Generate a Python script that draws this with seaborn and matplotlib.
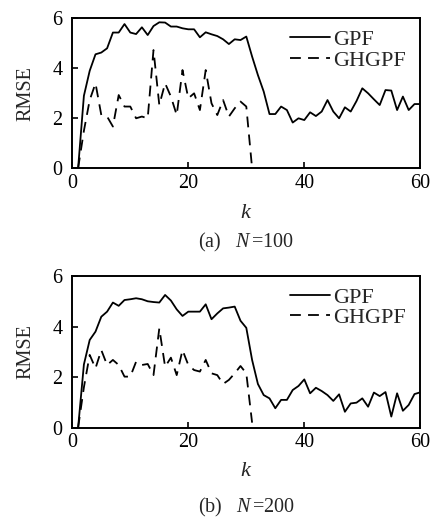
import numpy as np
import pandas as pd
import matplotlib
matplotlib.use("Agg")
import matplotlib.pyplot as plt
import seaborn as sns

# k = 1..60
k = list(range(1, 61))
k_gh = list(range(1, 32))

# (a) N = 100
gpf_100 = [0, 2.9, 3.9, 4.56, 4.63, 4.8, 5.43, 5.43, 5.77, 5.43,
           5.37, 5.64, 5.33, 5.69, 5.84, 5.83, 5.67, 5.67, 5.6, 5.56,
           5.56, 5.24, 5.44, 5.36, 5.29, 5.16, 4.97, 5.16, 5.13, 5.27,
           4.47, 3.73, 3.07, 2.17, 2.17, 2.47, 2.33, 1.83, 2.0, 1.93,
           2.24, 2.09, 2.27, 2.73, 2.27, 2.0, 2.44, 2.27, 2.69, 3.2,
           3.0, 2.76, 2.53, 3.13, 3.11, 2.33, 2.87, 2.33, 2.57, 2.57]
ghgpf_100 = [0, 1.5, 2.73, 3.4, 2.13, 2.07, 1.67, 2.93, 2.47, 2.47,
             2.0, 2.07, 2.0, 4.73, 2.53, 3.4, 2.87, 2.13, 3.93, 2.8,
             3.0, 2.33, 3.93, 2.6, 2.13, 2.73, 2.07, 2.4, 2.67, 2.47, 0]

# (b) N = 200
gpf_200 = [0, 2.5, 3.47, 3.8, 4.39, 4.59, 4.95, 4.82, 5.05, 5.08,
           5.12, 5.08, 5.0, 4.97, 4.95, 5.25, 5.03, 4.68, 4.42, 4.59,
           4.59, 4.59, 4.88, 4.29, 4.52, 4.72, 4.75, 4.79, 4.23, 3.95,
           2.68, 1.73, 1.29, 1.16, 0.77, 1.1, 1.1, 1.49, 1.65, 1.91,
           1.36, 1.58, 1.45, 1.29, 1.06, 1.32, 0.63, 0.96, 0.99, 1.16,
           0.83, 1.39, 1.25, 1.41, 0.44, 1.36, 0.67, 0.9, 1.33, 1.4]
ghgpf_200 = [0, 1.6, 2.88, 2.35, 3.07, 2.48, 2.68, 2.48, 2.02, 2.02,
             2.61, 2.48, 2.52, 2.08, 3.93, 2.41, 2.77, 2.08, 3.07, 2.48,
             2.28, 2.22, 2.68, 2.15, 2.08, 1.73, 1.89, 2.15, 2.44, 2.15, 0.2]

panels = [("(a)", "100", gpf_100, ghgpf_100), ("(b)", "200", gpf_200, ghgpf_200)]

sns.set_style("ticks")
plt.rcParams["font.family"] = ["Liberation Serif", "DejaVu Serif"]
plt.rcParams["mathtext.fontset"] = "custom"
plt.rcParams["mathtext.it"] = "Liberation Serif:italic"
plt.rcParams["mathtext.rm"] = "Liberation Serif"

fig = plt.figure(figsize=(4.35, 5.19), dpi=100)
W, H = 435, 519
boxes = [(72.3, 18.3, 420.3, 168.3), (72.3, 276, 420.3, 427.7)]
caption_y = [242, 507]
klabel_y = [213, 472]

for (tag, n, gpf, ghgpf), (x0, y0, x1, y1), cy, ky in zip(panels, boxes, caption_y, klabel_y):
    ax = fig.add_axes([x0 / W, 1 - y1 / H, (x1 - x0) / W, (y1 - y0) / H])
    df = pd.concat([
        pd.DataFrame({"k": k, "RMSE": gpf, "method": "GPF"}),
        pd.DataFrame({"k": k_gh, "RMSE": ghgpf, "method": "GHGPF"}),
    ])
    sns.lineplot(data=df, x="k", y="RMSE", style="method", ax=ax,
                 color="black", linewidth=1.3,
                 dashes={"GPF": "", "GHGPF": (6, 4)})
    ax.set_xlim(0, 60)
    ax.set_ylim(0, 6)
    ax.set_xticks([0, 20, 40, 60])
    ax.set_yticks([0, 2, 4, 6])
    ax.tick_params(direction="in", length=4, width=1.2, labelsize=14.5,
                   colors="black", pad=4)
    ax.tick_params(axis="y", pad=7)
    for s in ax.spines.values():
        s.set_visible(True)
        s.set_linewidth(1.4)
        s.set_color("black")
    ax.set_xlabel("")
    ax.set_ylabel("RMSE", fontsize=14.5, labelpad=12)
    fig.text(246.3 / W, 1 - ky / H, "$k$", fontsize=16, ha="center", va="center")
    fig.text(246.3 / W, 1 - cy / H, tag + "   $N\\,$=" + n,
             fontsize=14.5, ha="center", va="center")
    leg = ax.legend(loc="upper right", frameon=False, fontsize=16,
                    handlelength=1.8, handletextpad=0.15, labelspacing=0.0,
                    borderaxespad=0.1, bbox_to_anchor=(0.99, 1.0))
    for h in leg.get_lines():
        h.set_linewidth(1.3)

fig.savefig("out.png", dpi=100)
